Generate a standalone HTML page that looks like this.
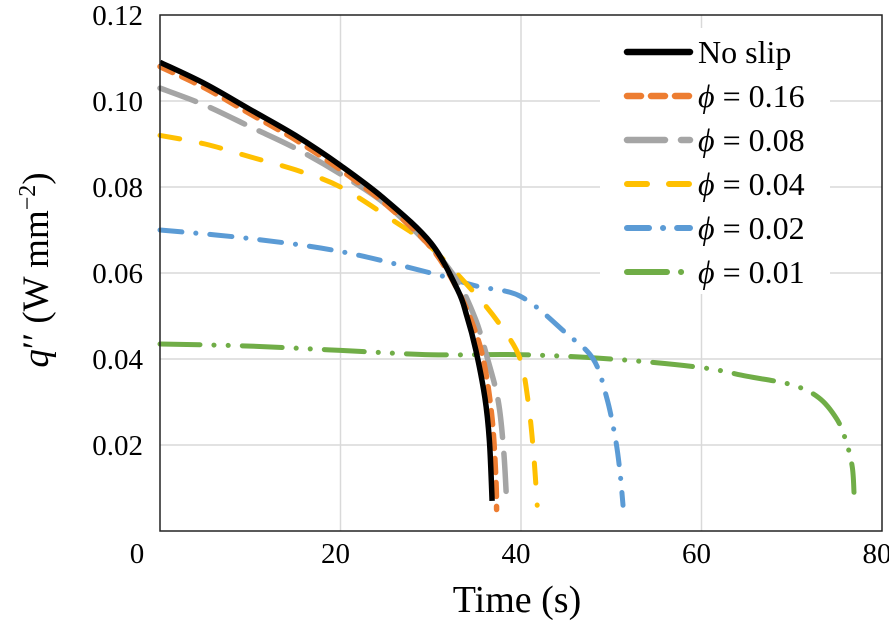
<!DOCTYPE html>
<html><head><meta charset="utf-8"><style>
html,body{margin:0;padding:0;background:#fff;}
svg{display:block;}
text{font-family:"Liberation Serif",serif;}
</style></head><body>
<svg id="chart" width="889" height="625" viewBox="0 0 889 625">
<g id="grid"></g>
<g id="series"></g>
<rect x="160" y="15" width="722" height="516" fill="none" stroke="#222" stroke-width="1.5"/>
<g id="ticks"></g>
<text x="517" y="612" font-size="38" font-family="Liberation Serif, serif" text-anchor="middle">Time (s)</text>
<text transform="translate(48,270) rotate(-90)" font-size="37" font-family="Liberation Serif, serif" text-anchor="middle"><tspan font-style="italic">q</tspan>′′ (W mm<tspan baseline-shift="super" font-size="24">−2</tspan>)</text>
<g id="legend"></g>
</svg>
<script>
const xTicks=[0,20,40,60,80];
const yTicks=[0.02,0.04,0.06,0.08,0.10,0.12];
const yTickLabels=["0.02","0.04","0.06","0.08","0.10","0.12"];
const seriesNames=["No slip","φ = 0.16","φ = 0.08","φ = 0.04","φ = 0.02","φ = 0.01"];
const tNoSlip=[0,5,10,15,20,25,30,33,34,35,36,36.5,36.8];
const qNoSlip=[0.109,0.104,0.098,0.092,0.085,0.077,0.067,0.056,0.050,0.042,0.031,0.021,0.007];
const t016=[0,5,10,15,20,25,30,33,35,36,36.8,37.2,37.3];
const q016=[0.108,0.103,0.097,0.091,0.084,0.076,0.066,0.056,0.046,0.038,0.026,0.013,0.005];
const t008=[0,5,10,15,20,25,30,33,35,36.3,37.5,38.1,38.4];
const q008=[0.103,0.099,0.094,0.089,0.083,0.076,0.066,0.058,0.049,0.04,0.03,0.018,0.007];
const t004=[0,5,10,15,20,26,30,35,38,39.9,40.8,41.4,41.8];
const q004=[0.092,0.090,0.087,0.084,0.080,0.072,0.066,0.055,0.047,0.040,0.03,0.018,0.006];
const t002=[0,10,20,30,35,40,45,48,49.5,50.5,51,51.3];
const q002=[0.070,0.068,0.065,0.060,0.057,0.0545,0.046,0.040,0.031,0.021,0.013,0.006];
const t001=[0,10,20,30,40,50,60,65,70,73,75,76,76.7,76.9];
const q001=[0.0435,0.043,0.042,0.041,0.041,0.040,0.038,0.036,0.034,0.031,0.026,0.021,0.015,0.009];

const X0=160,X1=882,Y0=531,Y1=15;
const xs=v=>X0+(v-0)/(80-0)*(X1-X0);
const ys=v=>Y0-(v-0)/(0.12-0)*(Y0-Y1);
const NS="http://www.w3.org/2000/svg";
function mk(tag,attrs,parent){const e=document.createElementNS(NS,tag);for(const k in attrs)e.setAttribute(k,attrs[k]);parent.appendChild(e);return e;}
function smooth(P){let d='M'+P[0][0].toFixed(1)+','+P[0][1].toFixed(1);
for(let i=0;i<P.length-1;i++){const p0=P[Math.max(0,i-1)],p1=P[i],p2=P[i+1],p3=P[Math.min(P.length-1,i+2)];
const c1=[p1[0]+(p2[0]-p0[0])/6,p1[1]+(p2[1]-p0[1])/6],c2=[p2[0]-(p3[0]-p1[0])/6,p2[1]-(p3[1]-p1[1])/6];
d+=' C'+c1.map(v=>v.toFixed(1)).join(',')+' '+c2.map(v=>v.toFixed(1)).join(',')+' '+p2[0].toFixed(1)+','+p2[1].toFixed(1);}
return d;}
const grid=document.getElementById('grid'),ticks=document.getElementById('ticks'),ser=document.getElementById('series'),leg=document.getElementById('legend');
xTicks.slice(1,-1).forEach(v=>{const l=mk('line',{x1:xs(v),x2:xs(v),y1:Y1,y2:Y0,stroke:'#d9d9d9','stroke-width':1.5},grid);

});
yTicks.slice(0,-1).forEach(v=>{const l=mk('line',{x1:X0,x2:X1,y1:ys(v),y2:ys(v),stroke:'#d9d9d9','stroke-width':1.5},grid);

});
xTicks.forEach(v=>{const t=mk('text',{x:v===0?137:xs(v)-5,y:563,'font-size':29,'font-family':'Liberation Serif, serif','text-anchor':'middle'},ticks);t.textContent=String(v);

});
yTicks.forEach((v,i)=>{const t=mk('text',{x:143,y:ys(v)+10,'font-size':29,'font-family':'Liberation Serif, serif','text-anchor':'end'},ticks);t.textContent=yTickLabels[i];

});
const styles=[
{c:'#000000',d:'',w:5.5},
{c:'#ed7d31',d:'14 10',w:5.5},
{c:'#a5a5a5',d:'38 16',w:5.5},
{c:'#ffc000',d:'20 22',w:5},
{c:'#5b9bd5',d:'22 14 0.1 14',w:5},
{c:'#70ad47',d:'40 14 0.1 14 0.1 14',w:5}];
const data=[[t001,q001],[t002,q002],[t004,q004],[t008,q008],[t016,q016],[tNoSlip,qNoSlip]];
const idx=[5,4,3,2,1,0];
data.forEach((d,k)=>{const i=idx[k];const s=styles[i];
const P=d[0].map((t,j)=>[xs(t),ys(d[1][j])]);
const p=mk('path',{d:smooth(P),fill:'none',stroke:s.c,'stroke-width':s.w,'stroke-dasharray':s.d,'stroke-linecap':i===0?'butt':'round','stroke-linejoin':'round'},ser);

});
mk('rect',{x:600,y:28,width:230,height:266,fill:'#fff'},leg);
seriesNames.forEach((n,i)=>{const y=52+i*44;const s=styles[i];
const l=mk('line',{x1:627,x2:690,y1:y,y2:y,stroke:s.c,'stroke-width':s.w+1,'stroke-dasharray':s.d,'stroke-linecap':'round'},leg);


const t=mk('text',{x:698,y:y+11,'font-size':32,'font-family':'Liberation Serif, serif'},leg);
if(i===0){t.textContent=n;}else{const a=mk('tspan',{'font-style':'italic'},t);a.textContent='ϕ';const b=mk('tspan',{},t);b.textContent=' = '+n.split('= ')[1];}

});
</script>
</body></html>
